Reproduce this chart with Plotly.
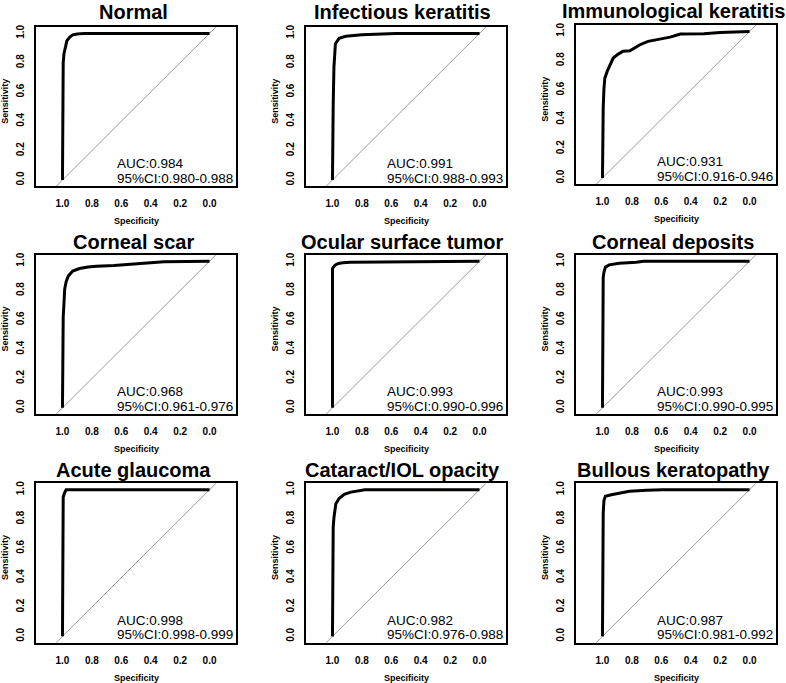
import plotly.graph_objects as go

# ---------------- data ----------------
categories = ["Normal", "Infectious keratitis", "Immunological keratitis",
              "Corneal scar", "Ocular surface tumor", "Corneal deposits",
              "Acute glaucoma", "Cataract/IOL opacity", "Bullous keratopathy"]
auc_values = [0.984, 0.991, 0.931, 0.968, 0.993, 0.993, 0.998, 0.982, 0.987]
ci_low = [0.980, 0.988, 0.916, 0.961, 0.990, 0.990, 0.998, 0.976, 0.981]
ci_high = [0.988, 0.993, 0.946, 0.976, 0.996, 0.995, 0.999, 0.988, 0.992]

spec_normal = [1.0, 1.0, 0.995, 0.99, 0.98, 0.97, 0.95, 0.93, 0.90, 0.85, 0.0]
sens_normal = [0.0, 0.73, 0.80, 0.86, 0.92, 0.95, 0.975, 0.99, 0.995, 1.0, 1.0]

spec_infect = [1.0, 1.0, 0.995, 0.99, 0.98, 0.955, 0.91, 0.80, 0.57, 0.0]
sens_infect = [0.0, 0.50, 0.52, 0.77, 0.93, 0.966, 0.98, 0.99, 1.0, 1.0]

spec_immuno = [1.0, 1.0, 0.995, 0.99, 0.984, 0.968, 0.95, 0.927, 0.893, 0.86, 0.814,
               0.78, 0.745, 0.69, 0.61, 0.54, 0.47, 0.31, 0.2, 0.0]
sens_immuno = [0.0, 0.25, 0.48, 0.61, 0.68, 0.727, 0.773, 0.818, 0.845, 0.864, 0.868,
               0.886, 0.909, 0.932, 0.948, 0.961, 0.982, 0.984, 0.993, 1.0]

spec_scar = [1.0, 1.0, 0.995, 0.99, 0.985, 0.975, 0.96, 0.93, 0.884, 0.826, 0.77,
             0.65, 0.54, 0.42, 0.31, 0.0]
sens_scar = [0.0, 0.46, 0.62, 0.71, 0.81, 0.86, 0.90, 0.933, 0.95, 0.96, 0.966,
             0.97, 0.978, 0.99, 0.996, 1.0]

spec_tumor = [1.0, 1.0, 0.99, 0.98, 0.96, 0.93, 0.88, 0.62, 0.60, 0.0]
sens_tumor = [0.0, 0.95, 0.965, 0.975, 0.985, 0.99, 0.993, 0.995, 1.0, 1.0]

spec_deposit = [1.0, 1.0, 0.995, 0.99, 0.98, 0.954, 0.885, 0.77, 0.72, 0.0]
sens_deposit = [0.0, 0.78, 0.89, 0.925, 0.96, 0.975, 0.986, 0.993, 1.0, 1.0]

spec_glaucoma = [1.0, 1.0, 0.995, 0.985, 0.975, 0.0]
sens_glaucoma = [0.0, 0.92, 0.95, 0.98, 1.0, 1.0]

spec_cataract = [1.0, 1.0, 0.995, 0.99, 0.985, 0.977, 0.955, 0.92, 0.875, 0.83, 0.79, 0.78, 0.0]
sens_cataract = [0.0, 0.61, 0.745, 0.81, 0.85, 0.905, 0.94, 0.968, 0.984, 0.99, 0.995, 1.0, 1.0]

spec_bullous = [1.0, 1.0, 0.995, 0.99, 0.98, 0.94, 0.885, 0.816, 0.70, 0.59, 0.0]
sens_bullous = [0.0, 0.64, 0.84, 0.927, 0.955, 0.966, 0.977, 0.99, 0.997, 1.0, 1.0]

spec_list = [spec_normal, spec_infect, spec_immuno, spec_scar, spec_tumor,
             spec_deposit, spec_glaucoma, spec_cataract, spec_bullous]
sens_list = [sens_normal, sens_infect, sens_immuno, sens_scar, sens_tumor,
             sens_deposit, sens_glaucoma, sens_cataract, sens_bullous]

tick_vals = [0.0, 0.2, 0.4, 0.6, 0.8, 1.0]

# ---------------- layout geometry ----------------
W, H = 786, 683
col_left = [36, 306, 576]
row_top = [25, 253.5, 482.7]
box_w, box_h = 200, 160
x_range = [1.18, -0.18]
y_range = [-0.044, 1.044]
title_cy = [10, 241, 469]

FONT = "Liberation Sans, Arial, Helvetica, sans-serif"

fig = go.Figure()
layout = dict(width=W, height=H, margin=dict(l=0, r=0, t=0, b=0),
              paper_bgcolor="white", plot_bgcolor="white", showlegend=False)
annotations = []

for i, name in enumerate(categories):
    r, c = divmod(i, 3)
    L = col_left[c]
    shift = 2 if (r == 0 and c == 2) else 0
    T = row_top[r] - shift
    n = "" if i == 0 else str(i + 1)
    xa, ya = "x" + n, "y" + n

    # diagonal reference line sens = 1 - spec
    diag_y = list(y_range)
    diag_x = [1 - v for v in diag_y]
    fig.add_trace(go.Scatter(x=diag_x, y=diag_y, mode="lines",
                             line=dict(color="#9a9a9a", width=1),
                             xaxis=xa, yaxis=ya, hoverinfo="skip"))
    fig.add_trace(go.Scatter(x=spec_list[i], y=sens_list[i], mode="lines",
                             line=dict(color="black", width=3),
                             xaxis=xa, yaxis=ya, name=name))

    xd = [L / W, (L + box_w) / W]
    yd = [1 - (T + box_h) / H, 1 - T / H]
    layout["xaxis" + n] = dict(domain=xd, range=x_range, anchor=ya,
                               tickvals=tick_vals, tickformat=".1f",
                               showgrid=False, zeroline=False,
                               showline=True, mirror=True, linecolor="black",
                               linewidth=1.5, ticks="", ticklabelstandoff=7,
                               tickfont=dict(family=FONT, size=10, color="black", weight="bold"))
    layout["yaxis" + n] = dict(domain=yd, range=y_range, anchor=xa,
                               tickvals=tick_vals, tickformat=".1f",
                               showgrid=False, zeroline=False,
                               showline=True, mirror=True, linecolor="black",
                               linewidth=1.5, ticks="", tickangle=-90,
                               ticklabelstandoff=6,
                               tickfont=dict(family=FONT, size=10, color="black", weight="bold"))

    cx = L + box_w / 2
    # title
    annotations.append(dict(text="<b>%s</b>" % name, xref="paper", yref="paper",
                            x=(cx - 3) / W, y=1 - (title_cy[r] - shift / 2) / H,
                            xanchor="center", yanchor="middle", showarrow=False,
                            font=dict(family=FONT, size=20, color="black")))
    # axis titles
    annotations.append(dict(text="<b>Sensitivity</b>", xref="paper", yref="paper",
                            x=(L - 31) / W, y=1 - (T + box_h / 2 - 5) / H,
                            xanchor="center", yanchor="middle", textangle=-90,
                            showarrow=False, font=dict(family=FONT, size=9, color="black")))
    annotations.append(dict(text="<b>Specificity</b>", xref="paper", yref="paper",
                            x=cx / W, y=1 - (T + box_h + 35) / H,
                            xanchor="center", yanchor="middle",
                            showarrow=False, font=dict(family=FONT, size=9, color="black")))
    # AUC text
    annotations.append(dict(text="AUC:%.3f" % auc_values[i], xref=xa, yref=ya,
                            x=0.645, y=0.11, xanchor="left", yanchor="middle",
                            showarrow=False, font=dict(family=FONT, size=13.5, color="black")))
    annotations.append(dict(text="95%%CI:%.3f-%.3f" % (ci_low[i], ci_high[i]), xref=xa, yref=ya,
                            x=0.645, y=0.01, xanchor="left", yanchor="middle",
                            showarrow=False, font=dict(family=FONT, size=13.5, color="black")))

layout["annotations"] = annotations
fig.update_layout(**layout)
fig.write_html("out.html", config={"displayModeBar": False},
               post_script="document.body.style.margin='0';document.body.style.overflow='hidden';")
